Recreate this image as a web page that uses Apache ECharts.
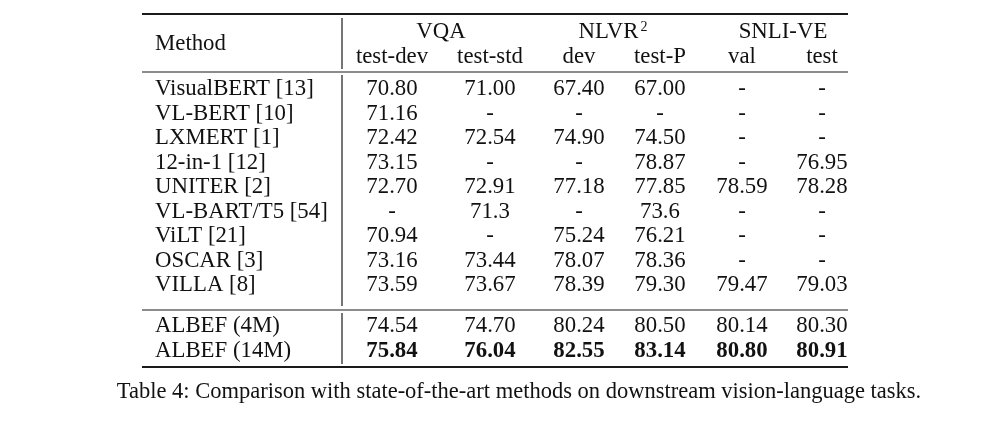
<!DOCTYPE html>
<html>
<head>
<meta charset="utf-8">
<script src="https://cdn.jsdelivr.net/npm/echarts@6/dist/echarts.min.js"></script>
<style>
html,body{margin:0;padding:0;background:#fff;}
#chart{width:985px;height:422px;}
</style>
</head>
<body>
<div id="chart"></div>
<script>
// ---- table data ----
const groupHeaders = ['VQA', 'NLVR', 'SNLI-VE'];
const subHeaders = ['test-dev', 'test-std', 'dev', 'test-P', 'val', 'test'];
const methods = ['VisualBERT [13]', 'VL-BERT [10]', 'LXMERT [1]', '12-in-1 [12]', 'UNITER [2]', 'VL-BART/T5 [54]', 'ViLT [21]', 'OSCAR [3]', 'VILLA [8]', 'ALBEF (4M)', 'ALBEF (14M)'];
const vqaTestDev = ['70.80', '71.16', '72.42', '73.15', '72.70', '-', '70.94', '73.16', '73.59', '74.54', '75.84'];
const vqaTestStd = ['71.00', '-', '72.54', '-', '72.91', '71.3', '-', '73.44', '73.67', '74.70', '76.04'];
const nlvrDev = ['67.40', '-', '74.90', '-', '77.18', '-', '75.24', '78.07', '78.39', '80.24', '82.55'];
const nlvrTestP = ['67.00', '-', '74.50', '78.87', '77.85', '73.6', '76.21', '78.36', '79.30', '80.50', '83.14'];
const snliVal = ['-', '-', '-', '-', '78.59', '-', '-', '-', '79.47', '80.14', '80.80'];
const snliTest = ['-', '-', '-', '76.95', '78.28', '-', '-', '-', '79.03', '80.30', '80.91'];
const boldRow = 'ALBEF (14M)';
const caption = 'Table 4: Comparison with state-of-the-art methods on downstream vision-language tasks.';

// ---- layout (pixel space of the hidden axes) ----
const FONT = '"Liberation Serif", "Times New Roman", serif';
const FS = 22.8;
const METHOD_X = 155;
const COL_X = [392, 490, 579, 660, 742, 822];
const GROUP_X = [441, 613, 783];
const GROUP_Y = 32, SUB_Y = 57, METHOD_HDR_Y = 44;
function rowY(i) { return i < 9 ? 89.5 + 24.5 * i : 326.5 + 24.3 * (i - 9); }
const RULE_L = 142, RULE_R = 848, VLINE_X = 342;
const CAPTION_X = 519, CAPTION_Y = 392.5, CAPTION_FS = 22.5;

const columns = [vqaTestDev, vqaTestStd, nlvrDev, nlvrTestP, snliVal, snliTest];

// text items: [x, y, text, align, bold, kind]
const texts = [];
texts.push([METHOD_X, METHOD_HDR_Y, 'Method', 'left', 0, 'n']);
groupHeaders.forEach((g, i) => texts.push([GROUP_X[i], GROUP_Y, g, 'center', 0, i === 1 ? 'sup' : 'n']));
subHeaders.forEach((s, i) => texts.push([COL_X[i], SUB_Y, s, 'center', 0, 'n']));
methods.forEach((m, r) => {
  texts.push([METHOD_X, rowY(r), m, 'left', 0, 'n']);
  columns.forEach((col, c) => texts.push([COL_X[c], rowY(r), col[r], 'center', m === boldRow ? 1 : 0, 'n']));
});
texts.push([CAPTION_X, CAPTION_Y, caption, 'center', 0, 'cap']);

// rules: [x1, y1, x2, y2, width]
const rules = [
  [RULE_L, 14, RULE_R, 14, 2],
  [RULE_L, 72, RULE_R, 72, 1.2],
  [RULE_L, 310, RULE_R, 310, 1.2],
  [RULE_L, 367, RULE_R, 367, 2],
  [VLINE_X, 18, VLINE_X, 69, 1.2],
  [VLINE_X, 75, VLINE_X, 306, 1.2],
  [VLINE_X, 313, VLINE_X, 364, 1.2]
];

const chart = echarts.init(document.getElementById('chart'), null, {renderer: 'canvas'});
chart.setOption({
  backgroundColor: '#fff',
  animation: false,
  grid: {left: 0, right: 0, top: 0, bottom: 0},
  xAxis: {type: 'value', min: 0, max: 985, show: false},
  yAxis: {type: 'value', min: 0, max: 422, inverse: true, show: false},
  series: [
    {
      type: 'custom',
      data: rules,
      renderItem: function (params, api) {
        const p1 = api.coord([api.value(0), api.value(1)]);
        const p2 = api.coord([api.value(2), api.value(3)]);
        return {
          type: 'line',
          shape: {x1: p1[0], y1: p1[1], x2: p2[0], y2: p2[1]},
          style: {stroke: '#1a1a1a', lineWidth: api.value(4)}
        };
      }
    },
    {
      type: 'custom',
      data: texts.map(t => [t[0], t[1]]),
      renderItem: function (params, api) {
        const t = texts[params.dataIndex];
        const p = api.coord([api.value(0), api.value(1)]);
        if (t[5] === 'sup') {
          return {
            type: 'text',
            x: p[0], y: p[1],
            style: {
              text: '{m|' + t[2] + '}{s|2}',
              align: 'center', verticalAlign: 'middle',
              rich: {
                m: {fontFamily: FONT, fontSize: FS, fill: '#111', lineHeight: 24},
                s: {fontFamily: FONT, fontSize: 14, fill: '#111', verticalAlign: 'top', lineHeight: 24, padding: [0, 0, 0, 2]}
              }
            }
          };
        }
        return {
          type: 'text',
          x: p[0], y: p[1],
          style: {
            text: t[2],
            fontFamily: FONT,
            fontSize: t[5] === 'cap' ? CAPTION_FS : FS,
            fontWeight: t[4] ? 'bold' : 'normal',
            fill: '#111',
            align: t[3],
            verticalAlign: 'middle'
          }
        };
      }
    }
  ]
});
</script>
</body>
</html>
